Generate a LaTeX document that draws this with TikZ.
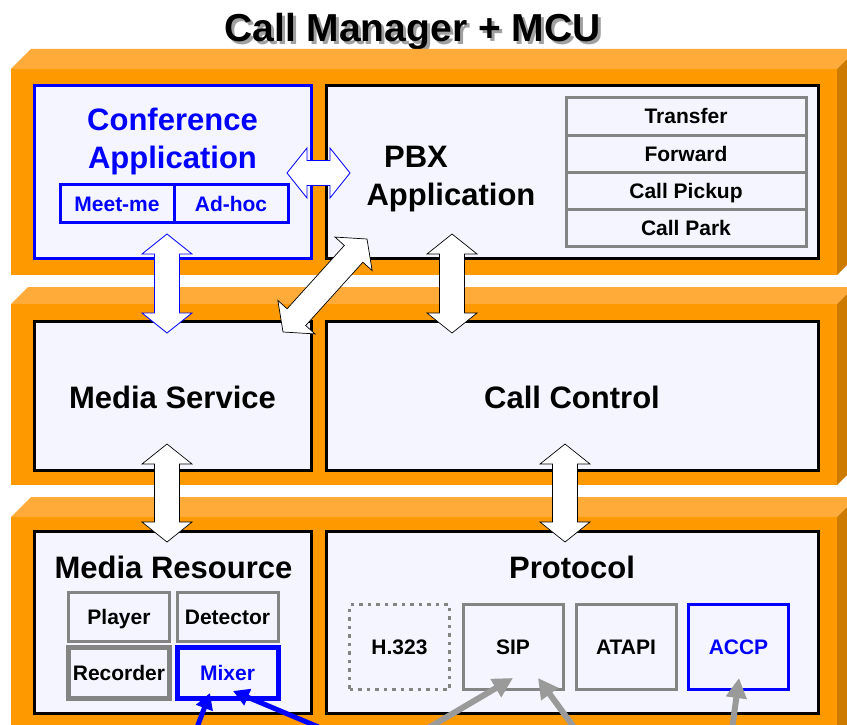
\documentclass[tikz,border=0pt]{standalone}
\usepackage{fontspec}
\setmainfont{Liberation Sans}
\usetikzlibrary{calc,arrows.meta}
\definecolor{slabfront}{HTML}{FF9900}
\definecolor{slabtop}{HTML}{FFAB3A}
\definecolor{slabside}{HTML}{CC7A00}
\definecolor{boxfill}{HTML}{F5F5FF}
\definecolor{mblue}{HTML}{0000FF}
\definecolor{mgray}{HTML}{848484}
\definecolor{agray}{HTML}{9A9A9A}
\definecolor{titleshade}{HTML}{A0A0A0}
\def\slab(#1:#2:#3){%
  \fill[slabtop] (11,#2) -- ({11+#2-#1},#1) -- ({837+#2-#1},#1) -- (837,#2) -- cycle;
  \fill[slabside] (837,#2) -- ({837+#2-#1},#1) -- ({837+#2-#1},{#3-#2+#1}) -- (837,#3) -- cycle;
  \fill[slabfront] (11,#2) rectangle (837,#3);}
\def\dblarrow[#1](#2)(#3){%
  \coordinate (da) at (#2);
  \coordinate (db) at (#3);
  \coordinate (ha) at ($(da)!20pt!(db)$);
  \coordinate (hb) at ($(db)!20pt!(da)$);
  \draw[#1] (da) -- ($(ha)!25pt!90:(db)$) -- ($(ha)!12.5pt!90:(db)$)
    -- ($(hb)!12.5pt!-90:(da)$) -- ($(hb)!25pt!-90:(da)$) -- (db)
    -- ($(hb)!25pt!90:(da)$) -- ($(hb)!12.5pt!90:(da)$)
    -- ($(ha)!12.5pt!-90:(db)$) -- ($(ha)!25pt!-90:(db)$) -- cycle;}
\newcommand\shadowed[1]{\makebox[0pt][l]{\hspace{3pt}\raisebox{-3pt}{\textcolor{titleshade}{#1}}}#1}
\tikzset{
  titletxt/.style={font=\fontsize{39}{44}\selectfont\bfseries, inner sep=0pt},
  bigtxt/.style={font=\fontsize{31}{38}\selectfont\bfseries, inner sep=0pt},
  layerbox/.style={draw=black, line width=3pt, fill=boxfill, inner sep=0pt},
  smallbox/.style={draw=mgray, line width=3pt, fill=boxfill, inner sep=0pt,
    font=\fontsize{21}{24}\selectfont\bfseries, text height=15pt, text depth=0pt},
  featbox/.style={smallbox, minimum width=240pt, minimum height=37pt},
  resbox/.style={smallbox, minimum width=101pt, minimum height=49pt},
  protbox/.style={smallbox, minimum width=100pt, minimum height=85pt},
  blockblue/.style={draw=mblue, line width=0.8pt, fill=white},
  blockblack/.style={draw=black, line width=0.7pt, fill=white},
  bluearr/.style={draw=mblue, line width=5pt, -{Triangle[length=16pt,width=17pt]}},
  grayarr/.style={draw=agray, line width=6pt, -{Triangle[length=20pt,width=20pt]}}
}
\begin{document}
\begin{tikzpicture}[x=1pt,y=-1pt]
  \useasboundingbox (0,0) rectangle (847,725);
  \clip (0,0) rectangle (847,725);

  % title
  \node[titletxt, anchor=base] (title) at (412.5,42) {\shadowed{Call Manager + MCU}};

  % the three layers
  \slab(49:69:275)
  \slab(287:304:485)
  \slab(497:517:760)

  % application layer
  \node[layerbox, draw=mblue, minimum width=277pt, minimum height=172pt] (conf) at (172.5,172) {};
  \node[layerbox, minimum width=492pt, minimum height=172pt] (pbx) at (572,172) {};
  \node[bigtxt, text=mblue, anchor=base] (conftxt) at (172.5,130) {Conference};
  \node[bigtxt, text=mblue, anchor=base] (confapp) at (172.5,168) {Application};
  \node[smallbox, draw=mblue, text=mblue, minimum width=114pt, minimum height=38pt] (meetme) at (117,203.5) {Meet-me};
  \node[smallbox, draw=mblue, text=mblue, minimum width=114pt, minimum height=38pt] (adhoc) at (231,203.5) {Ad-hoc};
  \node[bigtxt, anchor=base] (pbxtxt) at (416,167) {PBX};
  \node[bigtxt, anchor=base] (pbxapp) at (451,205) {Application};
  \foreach \name/\txt [count=\i] in {xfer/Transfer, fwd/Forward, pick/Call Pickup, park/Call Park}
    \node[featbox] (\name) at (686,{79.5+37*\i}) {\txt};

  % service layer
  \node[layerbox, minimum width=277pt, minimum height=149pt] (msvc) at (172.5,395.5) {};
  \node[layerbox, minimum width=492pt, minimum height=149pt] (cctl) at (572,395.5) {};
  \node[bigtxt, anchor=base] (msvctxt) at (172.5,408) {Media Service};
  \node[bigtxt, anchor=base] (cctltxt) at (572,408) {Call Control};

  % resource layer
  \node[layerbox, minimum width=277pt, minimum height=182pt] (mres) at (172.5,622) {};
  \node[layerbox, minimum width=492pt, minimum height=182pt] (proto) at (572,622) {};
  \node[bigtxt, anchor=base] (mrestxt) at (173.5,578) {Media Resource};
  \node[bigtxt, anchor=base] (prototxt) at (572,578) {Protocol};
  \node[resbox] (player) at (119,617) {Player};
  \node[resbox] (detector) at (227.5,617) {Detector};
  \node[resbox, line width=5pt, minimum height=51pt] (recorder) at (119,673) {Recorder};
  \node[resbox, draw=mblue, text=mblue, line width=5pt, minimum height=51pt] (mixer) at (227.5,673) {Mixer};
  \node[protbox, dash pattern=on 3.5pt off 5pt] (h323) at (399.5,647) {H.323};
  \node[protbox] (sip) at (513,647) {SIP};
  \node[protbox] (atapi) at (626,647) {ATAPI};
  \node[protbox, draw=mblue, text=mblue] (accp) at (738.5,647) {ACCP};

  % block arrows between layers
  \coordinate (confrt) at (287,173);
  \coordinate (pbxlt) at (350,173);
  \coordinate (confdn) at (167,234);
  \coordinate (msvcup) at (167,333);
  \coordinate (msvcdn) at (167,444);
  \coordinate (mresup) at (167,542);
  \coordinate (pbxdg) at (367,239);
  \coordinate (msvcdg) at (283,332);
  \coordinate (pbxdn) at (452,234);
  \coordinate (cctlup) at (452,333);
  \coordinate (cctldn) at (565,444);
  \coordinate (protoup) at (565,542);
  \dblarrow[blockblue](confrt)(pbxlt)
  \dblarrow[blockblue](confdn)(msvcup)
  \dblarrow[blockblack](msvcdn)(mresup)
  \dblarrow[blockblack](pbxdg)(msvcdg)
  \dblarrow[blockblack](pbxdn)(cctlup)
  \dblarrow[blockblack](cctldn)(protoup)

  % arrows coming in from below
  \coordinate (in1) at (193,738);
  \coordinate (in2) at (335,734);
  \coordinate (in3) at (418,734);
  \coordinate (in4) at (581,737);
  \coordinate (in5) at (731,737);
  \draw[bluearr] (in1) -- ([xshift=-17.5pt,yshift=8pt]mixer.south);
  \draw[bluearr] (in2) -- ([xshift=5.5pt,yshift=10pt]mixer.south);
  \draw[grayarr] (in3) -- ([yshift=13pt]sip.south);
  \draw[grayarr] (in4) -- ([xshift=25pt,yshift=13pt]sip.south);
  \draw[grayarr] (in5) -- ([xshift=0.5pt,yshift=13pt]accp.south);
\end{tikzpicture}
\end{document}
